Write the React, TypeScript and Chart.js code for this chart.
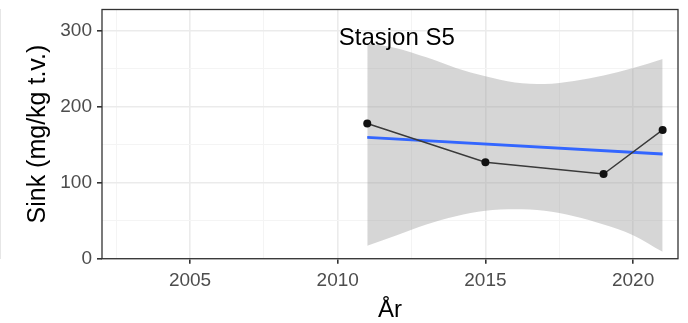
import React, { useEffect, useRef } from "react";
import { Chart, registerables } from "chart.js";

Chart.register(...registerables);

// Observed data
const years = [2011, 2015, 2019, 2021];
const sink = [178, 127, 111.5, 169.5];

// Linear trend (geom_smooth, method = lm)
const trendYears = [2011, 2021];
const trendValues = [159.8, 137.8];

// Confidence band
const bandYears = [2011, 2012, 2013, 2014, 2015, 2016, 2017, 2018, 2019, 2020, 2021];
const bandUpper = [284, 277, 265, 251, 240, 232, 230, 234, 241, 251, 263];
const bandLower = [17, 31, 45, 56, 63, 65, 63, 56, 45, 31, 9];

// Axes
const xMajorTicks = [2005, 2010, 2015, 2020];
const xMinorTicks = [2002.5, 2007.5, 2012.5, 2017.5];
const yMajorTicks = [0, 100, 200, 300];
const yMinorTicks = [50, 150, 250];

const stationLabel = "Stasjon S5";
const xTitle = "År";
const yTitle = "Sink (mg/kg t.v.)";

const FONT = "'Liberation Sans', Arial, sans-serif";

export default function App() {
  const ref = useRef<HTMLCanvasElement | null>(null);

  useEffect(() => {
    if (!ref.current) return;
    const toXY = (xs: number[], ys: number[]) => xs.map((x, i) => ({ x, y: ys[i] }));

    const panelPlugin = {
      id: "panel",
      afterDatasetsDraw(chart: any) {
        const { ctx, scales } = chart;
        ctx.save();
        ctx.fillStyle = "#000000";
        ctx.font = `24px ${FONT}`;
        ctx.textAlign = "center";
        ctx.textBaseline = "middle";
        ctx.fillText(stationLabel, scales.x.getPixelForValue(2012), scales.y.getPixelForValue(290));
        ctx.restore();
      },
      afterDraw(chart: any) {
        const { ctx, chartArea } = chart;
        ctx.save();
        ctx.strokeStyle = "#333333";
        ctx.lineWidth = 1.3;
        ctx.strokeRect(chartArea.left, chartArea.top, chartArea.right - chartArea.left, chartArea.bottom - chartArea.top);
        ctx.restore();
      },
    };

    const chart = new Chart(ref.current, {
      type: "scatter",
      data: {
        datasets: [
          {
            type: "line",
            label: "upper",
            data: toXY(bandYears, bandUpper),
            borderWidth: 0,
            pointRadius: 0,
            fill: "+1",
            backgroundColor: "rgba(153,153,153,0.4)",
            cubicInterpolationMode: "monotone",
            order: 3,
          },
          {
            type: "line",
            label: "lower",
            data: toXY(bandYears, bandLower),
            borderWidth: 0,
            pointRadius: 0,
            fill: false,
            cubicInterpolationMode: "monotone",
            order: 3,
          },
          {
            type: "line",
            label: "trend",
            data: toXY(trendYears, trendValues),
            borderColor: "#3366FF",
            borderWidth: 2.8,
            pointRadius: 0,
            fill: false,
            order: 2,
          },
          {
            type: "line",
            label: "sink",
            data: toXY(years, sink),
            borderColor: "#3a3a3a",
            borderWidth: 1.4,
            pointRadius: 4,
            pointBackgroundColor: "#111111",
            pointBorderColor: "#111111",
            pointBorderWidth: 0,
            fill: false,
            order: 1,
          },
        ],
      },
      options: {
        responsive: false,
        animation: false,
        events: [],
        layout: { padding: { top: 9.5, right: 10, left: 0, bottom: 0 } },
        plugins: {
          legend: { display: false },
          tooltip: { enabled: false },
          title: { display: false },
        },
        scales: {
          x: {
            type: "linear",
            min: 2002.02,
            max: 2021.52,
            afterBuildTicks: (scale: any) => {
              scale.ticks = [...xMinorTicks, ...xMajorTicks].sort((a, b) => a - b).map((v) => ({ value: v }));
            },
            afterFit: (scale: any) => {
              scale.height = 64.3;
              scale.paddingLeft = 0;
              scale.paddingRight = 0;
            },
            ticks: {
              autoSkip: false,
              maxRotation: 0,
              padding: 6,
              color: "#4D4D4D",
              font: { family: FONT, size: 19 },
              callback: (v: any) => (xMajorTicks.includes(v) ? String(v) : ""),
            },
            grid: {
              color: (c: any) => (xMajorTicks.includes(c.tick?.value) ? "#EBEBEB" : "#F4F4F4"),
              lineWidth: (c: any) => (xMajorTicks.includes(c.tick?.value) ? 1.6 : 1),
              tickColor: (c: any) => (xMajorTicks.includes(c.tick?.value) ? "#333333" : "rgba(0,0,0,0)"),
              tickLength: 5,
              drawTicks: true,
            },
            border: { display: false },
            title: {
              display: true,
              text: xTitle,
              color: "#000000",
              font: { family: FONT, size: 24, lineHeight: 1.05 },
              padding: { top: 0, bottom: 0 },
            },
          },
          y: {
            type: "linear",
            min: 0,
            max: 328,
            afterBuildTicks: (scale: any) => {
              scale.ticks = [...yMinorTicks, ...yMajorTicks].sort((a, b) => a - b).map((v) => ({ value: v }));
            },
            afterFit: (scale: any) => {
              scale.width = 102;
              scale.paddingTop = 0;
              scale.paddingBottom = 0;
            },
            ticks: {
              autoSkip: false,
              padding: 5,
              color: "#4D4D4D",
              font: { family: FONT, size: 19 },
              callback: (v: any) => (yMajorTicks.includes(v) ? String(v) : ""),
            },
            grid: {
              color: (c: any) => (yMajorTicks.includes(c.tick?.value) ? "#EBEBEB" : "#F4F4F4"),
              lineWidth: (c: any) => (yMajorTicks.includes(c.tick?.value) ? 1.6 : 1),
              tickColor: (c: any) => (yMajorTicks.includes(c.tick?.value) ? "#333333" : "rgba(0,0,0,0)"),
              tickLength: 5,
              drawTicks: true,
            },
            border: { display: false },
            title: {
              display: true,
              text: yTitle,
              color: "#000000",
              font: { family: FONT, size: 25, lineHeight: 1.2 },
              padding: { top: 23, bottom: 0 },
            },
          },
        },
      },
      plugins: [panelPlugin],
    } as any);

    return () => chart.destroy();
  }, []);

  return (
    <div style={{ position: "fixed", left: 0, top: 0, width: 688, height: 323, background: "#ffffff" }}>
      <div style={{ position: "absolute", left: 0, top: 9, width: 1, height: 250, background: "#E6E6E6" }} />
      <canvas ref={ref} width={688} height={323} style={{ position: "absolute", left: 0, top: 0 }} />
    </div>
  );
}
